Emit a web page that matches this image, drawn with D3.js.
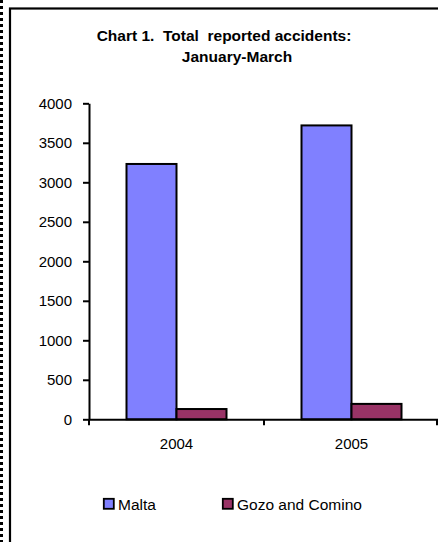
<!DOCTYPE html>
<html>
<head>
<meta charset="utf-8">
<script src="https://cdn.jsdelivr.net/npm/d3@7"></script>
<style>
  body { margin: 0; background: #fff; }
  text { font-family: "Liberation Sans", Arial, sans-serif; fill: #000; }
</style>
</head>
<body>
<div id="chart"></div>
<script>
var svgWidth = 438;
var svgHeight = 542;

// data
var years = ["2004", "2005"];
var seriesNames = ["Malta", "Gozo and Comino"];
var malta = [3232, 3720];
var gozo = [130, 195];
var yTicks = [0, 500, 1000, 1500, 2000, 2500, 3000, 3500, 4000];
var seriesColors = ["#8080FF", "#993366"];

var svg = d3.select("#chart")
  .append("svg")
  .attr("width", svgWidth)
  .attr("height", svgHeight);

// dotted strip on the left and the frame
for (var i = 0; i < svgHeight; i += 6) {
  svg.append("rect")
    .attr("x", 0).attr("y", i)
    .attr("width", 3).attr("height", 3)
    .attr("fill", "#000");
}
svg.append("rect")
  .attr("x", 10)
  .attr("y", 8.5)
  .attr("width", 500)
  .attr("height", 600)
  .attr("fill", "none")
  .attr("stroke", "#000")
  .attr("stroke-width", 2.2);

// title
svg.append("text")
  .attr("x", 224)
  .attr("y", 41)
  .attr("text-anchor", "middle")
  .style("font-size", "15.5px")
  .style("font-weight", "bold")
  .attr("xml:space", "preserve")
  .text("Chart 1.  Total  reported accidents:");

svg.append("text")
  .attr("x", 237)
  .attr("y", 62)
  .attr("text-anchor", "middle")
  .style("font-size", "15.5px")
  .style("font-weight", "bold")
  .text("January-March");

// scales
var x0 = d3.scaleBand()
  .domain(years)
  .range([89, 439]);

var x1 = d3.scaleBand()
  .domain(seriesNames)
  .range([x0.bandwidth() / 2 - 50, x0.bandwidth() / 2 + 50]);

var y = d3.scaleLinear()
  .domain([0, 4000])
  .range([419.3, 103.3]);

var rows = years.map(function(yr, i) {
  return { year: yr, values: [malta[i], gozo[i]] };
});

// y axis
var leftAxis = d3.axisLeft(y)
  .tickValues(yTicks)
  .tickFormat(d3.format("d"))
  .tickSize(6)
  .tickSizeOuter(0)
  .tickPadding(11);

var yAxis = svg.append("g")
  .attr("transform", "translate(89, 0)")
  .call(leftAxis);
yAxis.select(".domain").attr("stroke-width", 2);
yAxis.selectAll(".tick line").attr("stroke-width", 2);
yAxis.selectAll("text")
  .style("font-size", "15px")
  .style("font-family", "'Liberation Sans', Arial, sans-serif");

// bars
var groups = svg.selectAll(".year")
  .data(rows)
  .enter()
  .append("g")
  .attr("class", "year")
  .attr("transform", d => `translate(${x0(d.year)}, 0)`);

groups.selectAll("rect")
  .data(d => d.values.map((v, j) => ({ name: seriesNames[j], value: v, color: seriesColors[j] })))
  .enter()
  .append("rect")
  .attr("x", d => x1(d.name))
  .attr("y", d => y(d.value))
  .attr("width", x1.bandwidth())
  .attr("height", d => y(0) - y(d.value))
  .attr("fill", d => d.color)
  .attr("stroke", "#000")
  .attr("stroke-width", 2);

// x axis
var bottomAxis = d3.axisBottom(x0)
  .tickSize(0)
  .tickPadding(19);

var xAxis = svg.append("g")
  .attr("transform", `translate(0, ${y(0)})`)
  .call(bottomAxis);
xAxis.select(".domain").attr("stroke-width", 2);
xAxis.selectAll("text")
  .style("font-size", "15px")
  .style("font-family", "'Liberation Sans', Arial, sans-serif");

// tick marks between categories
var boundaries = years.map(d => x0(d)).concat([x0.range()[1] - 2]);
xAxis.selectAll(".sep")
  .data(boundaries)
  .enter()
  .append("line")
  .attr("class", "sep")
  .attr("x1", d => d)
  .attr("x2", d => d)
  .attr("y1", 0)
  .attr("y2", 6)
  .attr("stroke", "#000")
  .attr("stroke-width", 2);

// legend
var legendX = [103, 222];
var legend = svg.selectAll(".legend")
  .data(seriesNames)
  .enter()
  .append("g")
  .attr("class", "legend")
  .attr("transform", (d, i) => `translate(${legendX[i]}, 498)`);

legend.append("rect")
  .attr("x", 0.8)
  .attr("y", 0.8)
  .attr("width", 10)
  .attr("height", 10)
  .attr("fill", (d, i) => seriesColors[i])
  .attr("stroke", "#000")
  .attr("stroke-width", 1.8);

legend.append("text")
  .attr("x", 15)
  .attr("y", 12)
  .style("font-size", "15.5px")
  .text(d => d);
</script>
</body>
</html>
